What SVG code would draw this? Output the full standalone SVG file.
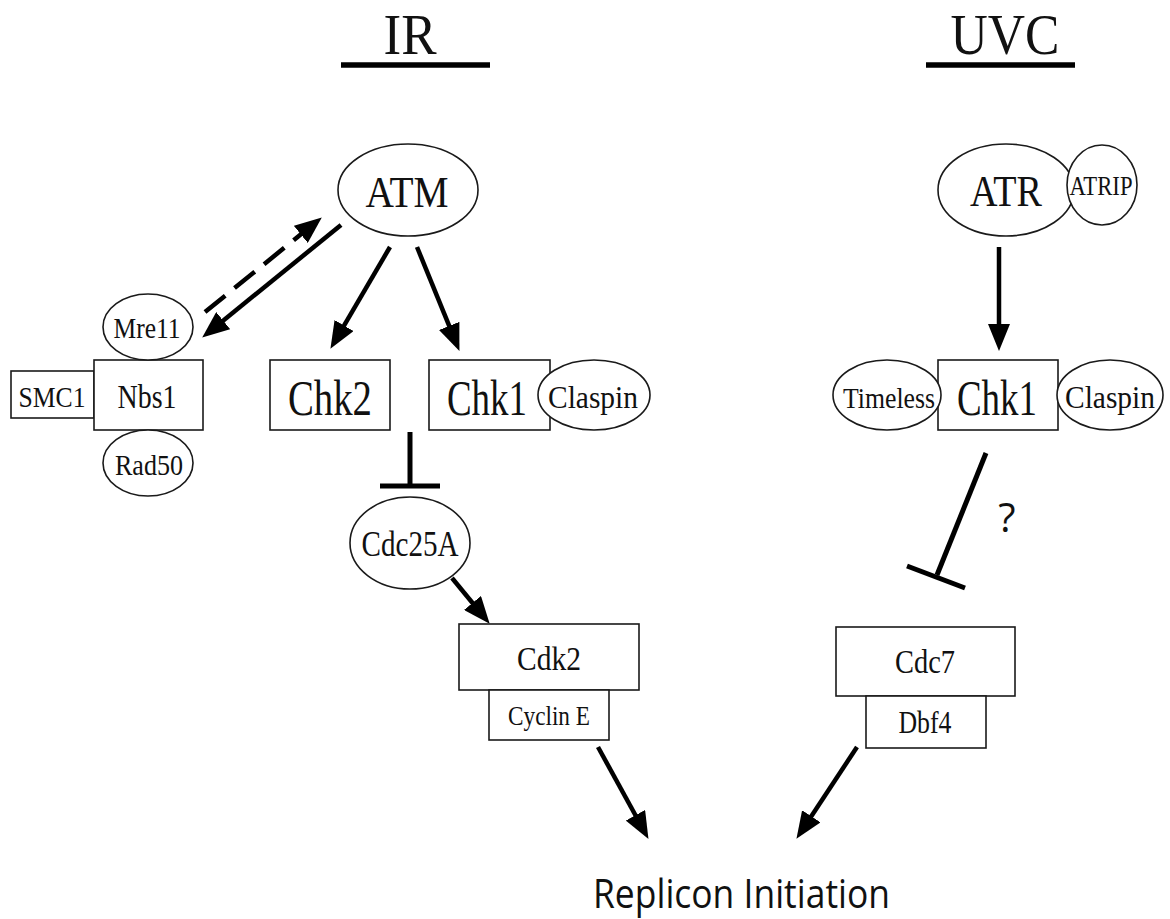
<svg xmlns="http://www.w3.org/2000/svg" width="1170" height="919" viewBox="0 0 1170 919">
<style>
.shape{fill:#fff;stroke:#1a1a1a;stroke-width:1.6}
.t{font-family:"Liberation Serif","Times New Roman",serif;fill:#111;text-anchor:middle}
.s{font-family:"Open Sans","Noto Sans",sans-serif;fill:#111}
.ln{stroke:#000;stroke-width:4.5;fill:none}
.dash{stroke-dasharray:26 12}
.bar{stroke:#000;stroke-width:5;fill:none}
.ul{stroke:#000;stroke-width:5.5}
</style>
<defs>
<marker id="ah" markerUnits="userSpaceOnUse" markerWidth="28" markerHeight="22" refX="14" refY="11" orient="auto">
<path d="M0,0 L27,11 L0,22 z" fill="#000"/>
</marker>
</defs>
<rect width="1170" height="919" fill="#fff"/>
<g id="titles">
<text class="t" x="410" y="54" font-size="58" textLength="53" lengthAdjust="spacingAndGlyphs">IR</text>
<line class="ul" x1="341" y1="65" x2="490" y2="65"/>
<text class="t" x="1005" y="54" font-size="58" textLength="109" lengthAdjust="spacingAndGlyphs">UVC</text>
<line class="ul" x1="926" y1="65" x2="1075" y2="65"/>
</g>
<g id="connectors">
<line class="ln dash" x1="205" y1="312" x2="311.7" y2="225.6" marker-end="url(#ah)"/>
<line class="ln" x1="341" y1="225" x2="212.3" y2="329.4" marker-end="url(#ah)"/>
<line class="ln" x1="390" y1="247" x2="337" y2="337.6" marker-end="url(#ah)"/>
<line class="ln" x1="417" y1="247" x2="454.5" y2="338.9" marker-end="url(#ah)"/>
<line class="ln" x1="999" y1="247" x2="999" y2="338" marker-end="url(#ah)"/>
<line class="ln" x1="452" y1="578" x2="481.4" y2="613.7" marker-end="url(#ah)"/>
<line class="ln" x1="598" y1="747" x2="642.2" y2="827.5" marker-end="url(#ah)"/>
<line class="ln" x1="857" y1="747" x2="803.6" y2="828" marker-end="url(#ah)"/>
<line class="bar" x1="410" y1="432" x2="410" y2="486"/>
<line class="bar" x1="380" y1="486" x2="440" y2="486"/>
<line class="bar" x1="986" y1="453" x2="937" y2="575"/>
<line class="bar" x1="907" y1="566" x2="965" y2="588"/>
<text class="s" x="1007" y="532" font-size="40" text-anchor="middle">?</text>
</g>
<g id="ATM">
<ellipse class="shape" cx="408" cy="190" rx="70" ry="46"/>
<text class="t" x="407" y="207" font-size="45" textLength="83" lengthAdjust="spacingAndGlyphs">ATM</text>
</g>
<g id="ATR">
<ellipse class="shape" cx="1006" cy="190" rx="68" ry="46"/>
<text class="t" x="1006" y="206" font-size="45" textLength="72" lengthAdjust="spacingAndGlyphs">ATR</text>
</g>
<g id="ATRIP">
<ellipse class="shape" cx="1102" cy="185" rx="35" ry="40"/>
<text class="t" x="1101" y="195" font-size="27" textLength="63" lengthAdjust="spacingAndGlyphs">ATRIP</text>
</g>
<g id="SMC1">
<rect class="shape" x="11" y="371" width="83" height="47"/>
<text class="t" x="52" y="407" font-size="29" textLength="67" lengthAdjust="spacingAndGlyphs">SMC1</text>
</g>
<g id="Nbs1">
<rect class="shape" x="94" y="360" width="109" height="70"/>
<text class="t" x="147" y="408" font-size="34" textLength="59" lengthAdjust="spacingAndGlyphs">Nbs1</text>
</g>
<g id="Mre11">
<ellipse class="shape" cx="148" cy="327" rx="45" ry="33"/>
<text class="t" x="147" y="338" font-size="29" textLength="67" lengthAdjust="spacingAndGlyphs">Mre11</text>
</g>
<g id="Rad50">
<ellipse class="shape" cx="148" cy="463" rx="45" ry="33"/>
<text class="t" x="149" y="475" font-size="29" textLength="68" lengthAdjust="spacingAndGlyphs">Rad50</text>
</g>
<g id="Chk2">
<rect class="shape" x="270" y="360" width="120" height="70"/>
<text class="t" x="330" y="415" font-size="50" textLength="84" lengthAdjust="spacingAndGlyphs">Chk2</text>
</g>
<g id="Chk1-IR">
<rect class="shape" x="429" y="360" width="121" height="70"/>
<text class="t" x="487" y="415" font-size="50" textLength="80" lengthAdjust="spacingAndGlyphs">Chk1</text>
</g>
<g id="Claspin-IR">
<ellipse class="shape" cx="594" cy="395" rx="56" ry="35"/>
<text class="t" x="593" y="408" font-size="31" textLength="90" lengthAdjust="spacingAndGlyphs">Claspin</text>
</g>
<g id="Chk1-UVC">
<rect class="shape" x="938" y="360" width="120" height="70"/>
<text class="t" x="997" y="415" font-size="50" textLength="80" lengthAdjust="spacingAndGlyphs">Chk1</text>
</g>
<g id="Timeless">
<ellipse class="shape" cx="887" cy="395" rx="54" ry="35"/>
<text class="t" x="889" y="408" font-size="30" textLength="92" lengthAdjust="spacingAndGlyphs">Timeless</text>
</g>
<g id="Claspin-UVC">
<ellipse class="shape" cx="1110" cy="395" rx="53" ry="35"/>
<text class="t" x="1110" y="408" font-size="31" textLength="90" lengthAdjust="spacingAndGlyphs">Claspin</text>
</g>
<g id="Cdc25A">
<ellipse class="shape" cx="410" cy="543" rx="60" ry="46"/>
<text class="t" x="410" y="556" font-size="36" textLength="97" lengthAdjust="spacingAndGlyphs">Cdc25A</text>
</g>
<g id="Cdk2">
<rect class="shape" x="459" y="624" width="180" height="66"/>
<text class="t" x="549" y="670" font-size="34" textLength="64" lengthAdjust="spacingAndGlyphs">Cdk2</text>
</g>
<g id="CyclinE">
<rect class="shape" x="489" y="690" width="120" height="50"/>
<text class="t" x="549" y="725" font-size="27" textLength="82" lengthAdjust="spacingAndGlyphs">Cyclin E</text>
</g>
<g id="Cdc7">
<rect class="shape" x="836" y="627" width="179" height="69"/>
<text class="t" x="925" y="673" font-size="33" textLength="60" lengthAdjust="spacingAndGlyphs">Cdc7</text>
</g>
<g id="Dbf4">
<rect class="shape" x="866" y="696" width="120" height="52"/>
<text class="t" x="925" y="733" font-size="31" textLength="53" lengthAdjust="spacingAndGlyphs">Dbf4</text>
</g>
<g id="Replicon">
<text class="s" x="593" y="908" font-size="40" textLength="297" lengthAdjust="spacingAndGlyphs">Replicon Initiation</text>
</g>
</svg>
